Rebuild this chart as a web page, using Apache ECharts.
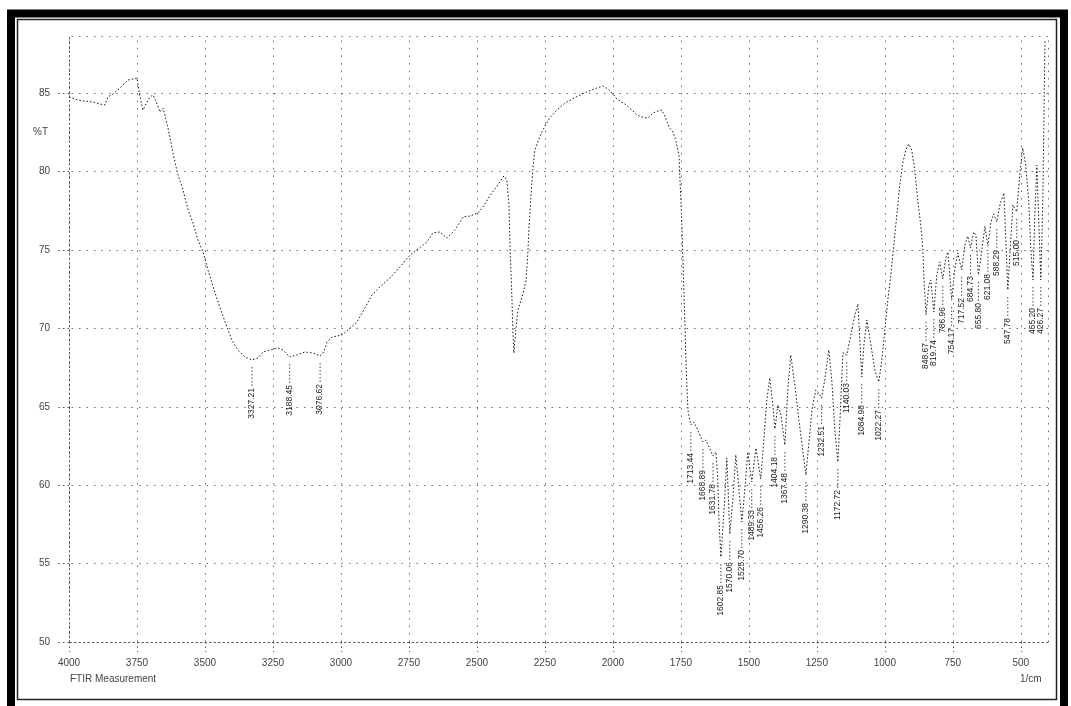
<!DOCTYPE html>
<html>
<head>
<meta charset="utf-8">
<script src="https://cdn.jsdelivr.net/npm/echarts@6/dist/echarts.min.js"></script>
<style>
  html, body { margin: 0; padding: 0; background: #ffffff; }
  #chart { width: 1071px; height: 706px; }
</style>
</head>
<body>
<div id="chart"></div>
<script>
// FTIR transmittance spectrum (wavenumber in 1/cm, transmittance in %T)
const wavenumber = [
  4000, 3967, 3941, 3912, 3886, 3868, 3857, 3838, 3820, 3801, 3783, 3765, 3750, 3739, 3728, 3713,
  3702, 3691, 3676, 3665, 3654, 3636, 3621, 3610, 3599, 3581, 3562, 3544, 3526, 3507, 3489, 3463,
  3438, 3419, 3401, 3379, 3353, 3327.21, 3305, 3287, 3261, 3232, 3213, 3188.45, 3162, 3132, 3103,
  3076.62, 3063, 3051, 3033, 2996, 2974, 2941, 2912, 2886, 2857, 2820, 2783, 2746, 2721, 2684,
  2662, 2636, 2610, 2581, 2551, 2526, 2496, 2478, 2445, 2423, 2401, 2390, 2382, 2379, 2375, 2371,
  2368, 2364, 2357, 2349, 2335, 2320, 2313, 2309, 2301, 2294, 2287, 2276, 2261, 2246, 2232, 2206,
  2176, 2129, 2096, 2059, 2037, 2018, 2000, 1985, 1956, 1930, 1912, 1893, 1871, 1853, 1834, 1820,
  1809, 1794, 1779, 1768, 1757, 1754, 1750, 1746, 1743, 1739, 1735, 1732, 1728, 1724, 1721,
  1713.44, 1702, 1688, 1668.89, 1658, 1643, 1631.78, 1621, 1614, 1610, 1602.85, 1596, 1588, 1581,
  1570.06, 1559, 1548, 1525.70, 1515, 1504, 1489.33, 1474, 1456.26, 1445, 1434, 1423, 1412,
  1404.18, 1393, 1382, 1367.48, 1357, 1346, 1331, 1316, 1302, 1290.38, 1280, 1268, 1254, 1243,
  1232.51, 1221, 1206, 1195, 1184, 1172.72, 1165, 1154, 1140.03, 1125, 1110, 1099, 1092, 1084.98,
  1077, 1066, 1051, 1037, 1022.27, 1011, 1000, 989, 978, 967, 956, 945, 934, 923, 912, 901, 890,
  879, 868, 860, 857, 848.67, 838, 831, 819.74, 809, 798, 786.96, 776, 768, 754.17, 743, 732,
  717.52, 706, 695, 684.73, 673, 665, 655.80, 643, 632, 621.08, 610, 599, 588.29, 577, 562, 555,
  547.78, 537, 529, 515.00, 504, 493, 482, 471, 463, 455.20, 449, 441, 434, 426.27, 419, 415, 411
];
const transmittance = [
  84.76, 84.57, 84.50, 84.44, 84.31, 84.25, 84.76, 84.95, 85.21, 85.53, 85.84, 85.91, 85.97, 84.76, 83.93, 84.44,
  84.76, 84.89, 84.31, 83.80, 84.06, 82.78, 81.51, 80.55, 79.79, 78.83, 77.55, 76.72, 75.64, 74.87, 73.73, 72.26,
  70.98, 70.09, 69.26, 68.62, 68.18, 67.99, 68.11, 68.50, 68.62, 68.75, 68.62, 68.18, 68.30, 68.50, 68.43,
  68.24, 68.50, 69.13, 69.45, 69.58, 69.90, 70.41, 71.30, 72.13, 72.64, 73.22, 73.92, 74.68, 75.00, 75.51,
  76.09, 76.15, 75.76, 76.28, 77.11, 77.17, 77.36, 77.74, 78.64, 79.15, 79.72, 79.47, 77.87, 75.64, 73.73, 71.81,
  69.90, 68.43, 69.90, 71.17, 71.94, 72.96, 74.68, 76.28, 78.51, 80.23, 81.38, 81.89, 82.53, 83.04, 83.42, 83.93,
  84.38, 84.82, 85.08, 85.33, 85.46, 85.27, 84.95, 84.63, 84.31, 83.93, 83.61, 83.48, 83.42, 83.74, 83.87, 83.93,
  83.55, 82.85, 82.53, 81.95, 81.06, 79.79, 78.19, 76.47, 74.68, 72.45, 70.22, 68.30, 66.39, 64.80, 64.48,
  63.84, 64.03, 63.52, 62.76, 62.88, 62.31, 61.86, 62.12, 60.33, 57.78, 55.42, 57.14, 59.38, 61.74,
  56.89, 59.06, 61.93, 57.65, 59.69, 62.12, 60.20, 62.37, 60.40, 62.88, 65.43, 66.84, 65.12,
  63.59, 65.12, 64.48, 62.56, 66.07, 68.30, 66.39, 64.16, 62.25, 60.65, 62.56, 64.80, 66.07, 65.88,
  65.56, 66.71, 68.62, 66.71, 63.52, 61.48, 64.16, 68.45, 68.30, 69.58, 70.86, 71.56, 69.26, 66.90,
  68.94, 70.54, 68.94, 67.35, 66.58, 67.99, 69.90, 71.81, 73.41, 75.32, 77.23, 79.15, 80.55, 81.38, 81.76, 81.38, 80.10,
  78.19, 76.60, 75.00, 73.41, 70.86, 72.77, 73.09, 71.05, 73.41, 74.24, 73.15, 74.49, 74.87, 71.81, 73.73, 74.81,
  73.73, 75.32, 75.89, 75.13, 76.15, 75.96, 73.41, 75.00, 76.53, 75.26, 76.79, 77.30, 76.79, 77.87, 78.64, 75.64,
  72.45, 75.64, 77.87, 77.43, 79.79, 81.51, 80.42, 78.19, 75.00, 73.09, 76.92, 80.42, 76.92, 73.09, 78.19, 83.29, 88.39
];

// Picked absorption peaks (labelled with their wavenumber)
const peakWavenumber = [
  3327.21, 3188.45, 3076.62,
  1713.44, 1668.89, 1631.78, 1602.85, 1570.06, 1525.70, 1489.33, 1456.26, 1404.18, 1367.48,
  1290.38, 1232.51, 1172.72, 1140.03, 1084.98, 1022.27,
  848.67, 819.74, 786.96, 754.17, 717.52, 684.73, 655.80, 621.08, 588.29, 547.78, 515.00, 455.20, 426.27
];
const peakTransmittance = [
  67.99, 68.18, 68.24,
  63.84, 62.76, 61.86, 55.42, 56.89, 57.65, 60.20, 60.40, 63.59, 62.56,
  60.65, 65.56, 61.48, 68.30, 66.90, 66.58,
  70.86, 71.05, 73.15, 71.81, 73.73, 75.13, 73.41, 75.26, 76.79, 72.45, 77.43, 73.09, 73.09
];

const xTicks = [4000, 3750, 3500, 3250, 3000, 2750, 2500, 2250, 2000, 1750, 1500, 1250, 1000, 750, 500];
const yTicks = [50, 55, 60, 65, 70, 75, 80, 85];
const xRange = [400, 4000];
const yRange = [50, 88.65];

const spectrum = wavenumber.map((w, i) => [w, transmittance[i]]);
const peaks = peakWavenumber.map((w, i) => [w, peakTransmittance[i]]);

const font = '"Liberation Sans", Arial, sans-serif';
const gridLine = { color: '#6c6c6c', width: 1, type: [1.5, 6] };

const chart = echarts.init(document.getElementById('chart'), null, { renderer: 'canvas' });

chart.setOption({
  animation: false,
  backgroundColor: '#ffffff',
  grid: { left: 69, right: 23, top: 36, bottom: 64 },
  xAxis: {
    type: 'value',
    inverse: true,
    min: xRange[0],
    max: xRange[1],
    axisLine: { show: true, lineStyle: { color: '#555', width: 1, type: [1.5, 3] } },
    axisTick: { show: true, customValues: xTicks, length: 10, lineStyle: { color: '#555', type: [1.5, 3] } },
    axisLabel: {
      customValues: xTicks, margin: 16, fontSize: 10, color: '#444', fontFamily: font,
      formatter: v => String(v)
    },
    splitLine: { show: false }
  },
  yAxis: {
    type: 'value',
    min: yRange[0],
    max: yRange[1],
    interval: 5,
    axisLine: { show: true, lineStyle: { color: '#555', width: 1, type: [1.5, 3] } },
    axisTick: { show: true, customValues: yTicks, length: 12, lineStyle: { color: '#555', type: [1.5, 3] } },
    axisLabel: {
      customValues: yTicks, margin: 19, fontSize: 10, color: '#444', fontFamily: font,
      formatter: v => String(v)
    },
    splitLine: { show: false }
  },
  series: [
    {
      type: 'line',
      data: spectrum,
      showSymbol: false,
      smooth: false,
      clip: true,
      lineStyle: { color: '#1e1e1e', width: 1, type: [1.6, 2] },
      z: 3,
      markLine: {
        silent: true,
        animation: false,
        symbol: ['none', 'none'],
        label: { show: false },
        lineStyle: gridLine,
        data: [
          ...xTicks.map(v => ({ xAxis: v })),
          { xAxis: xRange[0] },
          ...yTicks.filter(v => v > yRange[0]).map(v => ({ yAxis: v })),
          { yAxis: yRange[1] }
        ]
      }
    },
    {
      type: 'custom',
      data: peaks,
      z: 4,
      renderItem: function (params, api) {
        const w = api.value(0);
        const p = api.coord([w, api.value(1)]);
        return {
          type: 'group',
          children: [
            {
              type: 'line',
              shape: { x1: p[0], y1: p[1] + 7, x2: p[0], y2: p[1] + 26 },
              style: { stroke: '#444', lineWidth: 1, lineDash: [1.5, 2] }
            },
            {
              type: 'text',
              x: p[0],
              y: p[1] + 28,
              rotation: Math.PI / 2,
              style: {
                text: w.toFixed(2),
                fontSize: 8.5,
                fontFamily: font,
                fill: '#222',
                align: 'right',
                verticalAlign: 'middle'
              }
            }
          ]
        };
      }
    }
  ],
  graphic: [
    { type: 'text', left: 33, top: 127, style: { text: '%T', fontSize: 10, fontFamily: font, fill: '#444' } },
    { type: 'text', left: 70, top: 674, style: { text: 'FTIR Measurement', fontSize: 10, fontFamily: font, fill: '#444' } },
    { type: 'text', left: 1020, top: 674, style: { text: '1/cm', fontSize: 10, fontFamily: font, fill: '#444' } },
    // printed page frame: heavy outer border with a thin inner rule
    { type: 'rect', silent: true, z: 100, shape: { x: 11, y: 13.5, width: 1053, height: 700 },
      style: { fill: 'none', stroke: '#000', lineWidth: 8 } },
    { type: 'rect', silent: true, z: 100, shape: { x: 17.5, y: 19.5, width: 1039, height: 680 },
      style: { fill: 'none', stroke: '#222', lineWidth: 1.5 } }
  ]
});
</script>
</body>
</html>
